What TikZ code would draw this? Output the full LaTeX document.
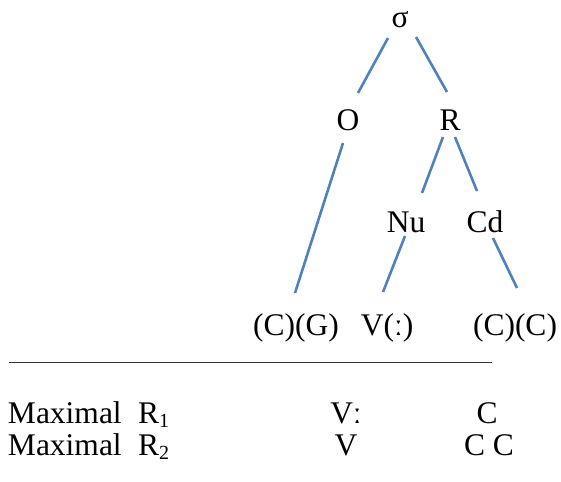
\documentclass[tikz,border=0pt]{standalone}
\usepackage{fontspec}
\setmainfont{Liberation Serif}
\begin{document}
\begin{tikzpicture}[x=1pt,y=-1pt,
  lbl/.style={inner sep=0pt,outer sep=0pt,anchor=base,font=\fontsize{31.5}{36}\selectfont},
  lblw/.style={lbl,anchor=base west},
  branch/.style={draw={rgb,255:red,79;green,129;blue,189},line width=2.6pt},
  rule/.style={draw={rgb,255:red,50;green,50;blue,60},line width=1pt}]
\useasboundingbox (0,0) rectangle (561,481);
% tree nodes
\node[lbl] (sigma) at (400,28) {σ};
\node[lbl] (O) at (348,131) {O};
\node[lbl] (R) at (450,131) {R};
\node[lbl] (Nu) at (406,232) {Nu};
\node[lbl] (Cd) at (485,232) {Cd};
\node[lbl] (CG) at (296,335) {(C)(G)};
\node[lbl] (V) at (387,335) {V(ː)};
\node[lbl] (CC) at (515,335) {(C)(C)};
% branches
\draw[branch] ([shift={(-12,10)}]sigma.base) -- ([shift={(10,-38)}]O.base);
\draw[branch] ([shift={(16,9)}]sigma.base) -- ([shift={(-3,-39)}]R.base);
\draw[branch] ([shift={(-5,12)}]O.base) -- ([shift={(-1,-42)}]CG.base);
\draw[branch] ([shift={(-7,6)}]R.base) -- ([shift={(16,-39)}]Nu.base);
\draw[branch] ([shift={(5,6)}]R.base) -- ([shift={(-8,-41)}]Cd.base);
\draw[branch] ([shift={(-1,4)}]Nu.base) -- ([shift={(-4,-43)}]V.base);
\draw[branch] ([shift={(8,6)}]Cd.base) -- ([shift={(2,-47)}]CC.base);
% rule
\coordinate (hl1) at (9,362);
\coordinate (hl2) at (492,362);
\draw[rule] (hl1) -- (hl2);
% table
\node[lblw] (m1) at (8,423) {Maximal};
\node[lblw] (r1) at (138,423) {R\raisebox{-4pt}{\fontsize{20}{20}\selectfont 1}};
\node[lbl] (v1) at (346,423) {Vː};
\node[lbl] (c1) at (487,423) {C};
\node[lblw] (m2) at (8,455) {Maximal};
\node[lblw] (r2) at (138,455) {R\raisebox{-4pt}{\fontsize{20}{20}\selectfont 2}};
\node[lbl] (v2) at (346,455) {V};
\node[lbl] (c2) at (489,455) {C C};
\end{tikzpicture}
\end{document}
